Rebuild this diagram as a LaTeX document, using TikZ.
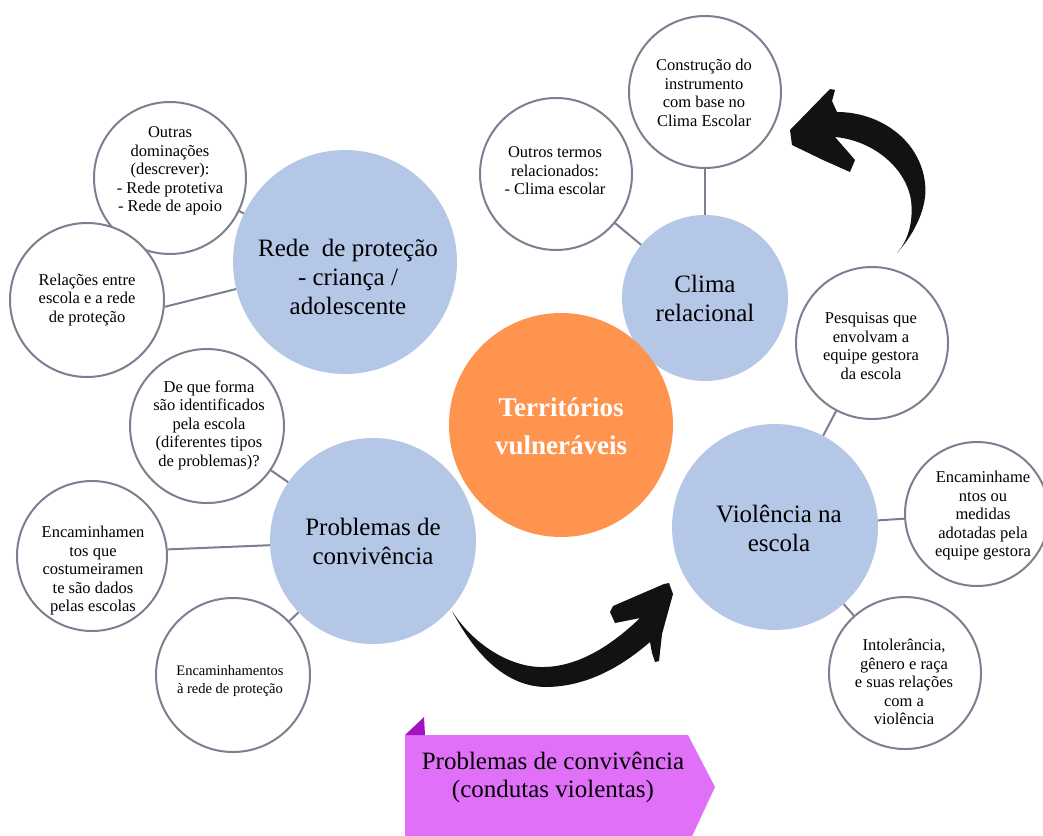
\documentclass[tikz,border=0pt]{standalone}
\usepackage{fontspec}
\setmainfont{Liberation Serif}
\definecolor{hubblue}{HTML}{B4C7E7}
\definecolor{hubcore}{HTML}{FF944F}
\definecolor{rim}{HTML}{7B8090}
\definecolor{tag}{HTML}{E070F7}
\definecolor{tagfold}{HTML}{A414BE}
\definecolor{ink}{HTML}{121212}
\tikzset{
  bubble/.style={circle, draw=rim, line width=2pt, fill=white, inner sep=0pt},
  hub/.style={circle, fill=hubblue, inner sep=0pt},
  smalltxt/.style={align=center, inner sep=0pt, font=\fontsize{16.5}{18.5}\selectfont},
  bigtxt/.style={align=center, inner sep=0pt, font=\fontsize{25}{29}\selectfont},
  link/.style={draw=rim, line width=2pt}
}
\begin{document}
\begin{tikzpicture}[x=1pt, y=-1pt]
\useasboundingbox (0,0) rectangle (1043,835);

% main hubs
\node[hub, minimum size=224] (rede) at (345,262) {};
\node[bigtxt] (redet) at (348,277) {Rede \ de proteção\\- criança /\\adolescente};
\node[hub, minimum size=166] (clima) at (705,298) {};
\node[bigtxt] (climat) at (705,298) {Clima\\relacional};
\node[hub, minimum size=206] (prob) at (373,541) {};
\node[bigtxt] (probt) at (373,541) {Problemas de\\convivência};
\node[hub, minimum size=206] (viol) at (775,527) {};
\node[bigtxt] (violt) at (779,528) {Violência na\\escola};
\node[circle, fill=hubcore, inner sep=0pt, minimum size=224] (terr) at (561,425) {};
\node[align=center, inner sep=0pt, text=white, font=\bfseries\fontsize{27}{38}\selectfont] (terrt) at (561,426) {Territórios\\vulneráveis};

% satellite bubbles
\node[bubble, minimum size=152] (outras) at (170,178) {};
\node[bubble, minimum size=154] (rel) at (87,300) {};
\node[bubble, minimum size=154] (forma) at (207,426) {};
\node[bubble, minimum size=150] (encam) at (92,556) {};
\node[bubble, minimum size=154] (encrede) at (233,675) {};
\node[bubble, minimum size=152] (termos) at (556,174) {};
\node[bubble, minimum size=152] (constr) at (705,92) {};
\node[bubble, minimum size=152] (pesq) at (872,343) {};
\node[bubble, minimum size=144] (medidas) at (977,514) {};
\node[bubble, minimum size=152] (intol) at (905,673) {};

\node[smalltxt] (outrast) at (170,171) {Outras\\dominações\\(descrever):\\- Rede protetiva\\- Rede de apoio};
\node[smalltxt] (relt) at (87,300) {Relações entre\\escola e a rede\\de proteção};
\node[smalltxt] (format) at (209,425) {De que forma\\são identificados\\pela escola\\(diferentes tipos\\de problemas)?};
\node[smalltxt] (encamt) at (93,571) {Encaminhamen\\tos que\\costumeiramen\\te são dados\\pelas escolas};
\node[smalltxt, font=\fontsize{14.5}{18}\selectfont] (encredet) at (230,681) {Encaminhamentos\\à rede de proteção};
\node[smalltxt] (termost) at (555,171) {Outros termos\\relacionados:\\- Clima escolar};
\node[smalltxt] (constrt) at (704,93) {Construção do\\instrumento\\com base no\\Clima Escolar};
\node[smalltxt] (pesqt) at (871,346) {Pesquisas que\\envolvam a\\equipe gestora\\da escola};
\node[smalltxt] (medidast) at (983,516) {Encaminhame\\ntos ou\\medidas\\adotadas pela\\equipe gestora};
\node[smalltxt] (intolt) at (904,682) {Intolerância,\\gênero e raça\\e suas relações\\com a\\violência};

% connectors
\draw[link] (outras) -- (rede);
\draw[link] (rel.-5) -- (rede);
\draw[link] (forma) -- (prob);
\draw[link] (encam.5) -- (prob);
\draw[link] (encrede) -- (prob);
\draw[link] (termos) -- (clima);
\draw[link] (constr) -- (clima);
\draw[link] (pesq) -- (viol);
\draw[link] (medidas) -- (viol);
\draw[link] (intol) -- (viol);

% sweeping arrow under the centre
\fill[ink] (452,611)
  .. controls (470,645) and (500,686) .. (545,687)
  .. controls (585,687) and (620,668) .. (650,642)
  -- (652,653) -- (655,662) -- (659,661) -- (662,634) -- (673,594)
  -- (669,583) -- (664,584) -- (613,606) -- (610,612) -- (615,623)
  -- (640,618)
  .. controls (615,642) and (580,668) .. (540,667)
  .. controls (505,666) and (470,640) .. (452,611) -- cycle;

% curling arrow on the upper right
\fill[ink] (897,253)
  .. controls (916,232) and (928,205) .. (925,183)
  .. controls (920,140) and (880,112) .. (837,112)
  -- (832,101) -- (835,90) -- (830,89) -- (790,130) -- (792,145)
  -- (823,160) -- (850,172) -- (855,160) -- (835,137)
  .. controls (870,140) and (905,165) .. (911,200)
  .. controls (914,225) and (906,243) .. (897,253) -- cycle;

% tag at the bottom
\fill[tag] (405,735) -- (688,735) -- (715,787) -- (688,845) -- (405,845) -- cycle;
\fill[tagfold] (405,735) -- (424,717) -- (425,735) -- cycle;
\node[align=center, inner sep=0pt, font=\fontsize{25}{28}\selectfont] (tagt) at (553,777) {Problemas de convivência\\(condutas violentas)};
\end{tikzpicture}
\end{document}
